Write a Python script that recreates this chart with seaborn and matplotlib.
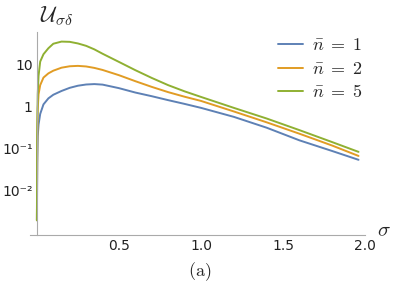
import numpy as np
import pandas as pd
import seaborn as sns
import matplotlib
matplotlib.use("Agg")
import matplotlib.pyplot as plt
from matplotlib.ticker import FixedLocator, FixedFormatter, LogLocator, NullFormatter, MultipleLocator

# values
sigma = [0, 0.002, 0.005, 0.01, 0.02, 0.04, 0.07, 0.1, 0.15, 0.2, 0.25, 0.3,
         0.35, 0.4, 0.5, 0.6, 0.7, 0.8, 0.9, 1.0, 1.2, 1.4, 1.6, 1.8, 1.96]
u_n1 = [0.002, 0.05, 0.2, 0.38, 0.68, 1.15, 1.6, 1.95, 2.4, 2.85, 3.2, 3.42,
        3.5, 3.4, 2.8, 2.2, 1.8, 1.45, 1.18, 0.95, 0.58, 0.32, 0.16, 0.089, 0.055]
u_n2 = [0.002, 0.15, 0.9, 2.0, 3.3, 5.0, 6.3, 7.3, 8.6, 9.3, 9.5, 9.2,
        8.5, 7.6, 5.7, 4.1, 3.0, 2.25, 1.75, 1.39, 0.78, 0.43, 0.23, 0.12, 0.068]
u_n5 = [0.002, 0.3, 2.0, 5.5, 12, 18, 25, 32, 36, 35.5, 32.5, 28.5,
        23.5, 18.5, 11.8, 7.5, 4.9, 3.3, 2.35, 1.73, 0.95, 0.53, 0.28, 0.145, 0.085]
labels = [r"$\bar{n}\;=\;1$", r"$\bar{n}\;=\;2$", r"$\bar{n}\;=\;5$"]
colors = ["#5E81B5", "#E19C24", "#8FB032"]

ytick_vals = [1e-2, 1e-1, 1, 10]
ytick_labels = ["10⁻²", "10⁻¹", "1", "10"]
xtick_vals = [0.5, 1.0, 1.5, 2.0]
xtick_labels = ["0.5", "1.0", "1.5", "2.0"]

df = pd.concat([
    pd.DataFrame({"sigma": sigma, "U": u, "n": lab})
    for u, lab in zip([u_n1, u_n2, u_n5], labels)
])

sns.set_style("white")
plt.rcParams["mathtext.fontset"] = "cm"
plt.rcParams["font.family"] = ["DejaVu Sans"]

fig = plt.figure(figsize=(3.99, 2.88), dpi=100)
ax = fig.add_axes([0.074, 0.184, 0.841, 0.705])

sns.lineplot(data=df, x="sigma", y="U", hue="n", palette=colors,
             linewidth=1.4, ax=ax, sort=False)

ax.set_yscale("log")
ax.set_xlim(-0.045, 2.0)
ax.set_ylim(8.9e-4, 61)

axis_col = "#aaaaaa"
for s in ["top", "right"]:
    ax.spines[s].set_visible(False)
ax.spines["left"].set_position(("data", 0))
ax.spines["left"].set_color(axis_col)
ax.spines["bottom"].set_color(axis_col)
ax.spines["left"].set_linewidth(0.8)
ax.spines["bottom"].set_linewidth(0.8)

ax.yaxis.set_major_locator(FixedLocator(ytick_vals))
ax.yaxis.set_major_formatter(FixedFormatter(ytick_labels))
ax.yaxis.set_minor_locator(LogLocator(base=10, subs=np.arange(2, 10)))
ax.yaxis.set_minor_formatter(NullFormatter())
ax.xaxis.set_major_locator(FixedLocator(xtick_vals))
ax.xaxis.set_major_formatter(FixedFormatter(xtick_labels))
ax.xaxis.set_minor_locator(MultipleLocator(0.1))

ax.tick_params(which="both", direction="in", color=axis_col, labelsize=10,
               labelcolor="#222222")
ax.tick_params(which="major", length=4, width=0.7)
ax.tick_params(which="minor", length=2, width=0.5)
ax.tick_params(axis="x", pad=3)
ax.tick_params(axis="y", pad=3)

ax.set_xlabel("")
ax.set_ylabel("")
fig.text(0.10, 0.945, r"$\mathcal{U}_{\sigma\delta}$", fontsize=16, ha="left", va="center")
fig.text(0.962, 0.20, r"$\sigma$", fontsize=15, ha="center", va="center")
fig.text(0.50, 0.058, r"$\mathrm{(a)}$", fontsize=13, ha="center", va="center")

leg = ax.legend(loc="upper left", bbox_to_anchor=(0.655, 0.93),
                bbox_transform=fig.transFigure, frameon=False,
                fontsize=13, handlelength=1.4, handletextpad=0.5, labelspacing=0.3)
for line in leg.get_lines():
    line.set_linewidth(1.4)

fig.savefig("out.png", dpi=100)
